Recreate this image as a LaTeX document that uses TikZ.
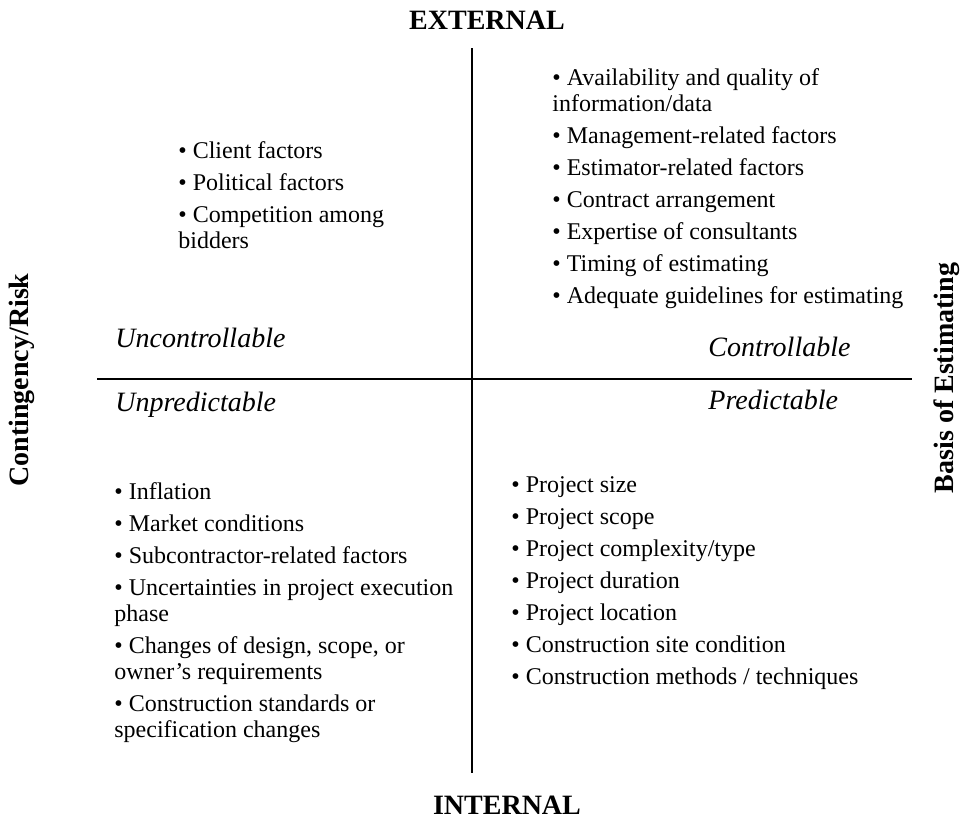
\documentclass[tikz,border=0pt]{standalone}
\usepackage{fontspec}
\setmainfont{Liberation Serif}
\usepackage{tikz}

\newcommand{\itm}{\textbullet\ }

\begin{document}
\begin{tikzpicture}[x=0.5pt, y=-0.5pt,
            list node/.style={anchor=north west, inner sep=0pt, align=left, font=\fontsize{12}{13}\selectfont},
            axis label/.style={inner sep=0pt, font=\fontsize{14}{16}\selectfont\bfseries},
            corner label/.style={anchor=base west, inner sep=0pt, font=\fontsize{14}{16}\selectfont\itshape},
            axis line/.style={line width=1pt},
            ]
            \useasboundingbox (0,0) rectangle (963,821);

            \coordinate (top) at (472,48);
            \coordinate (bottom) at (472,773);
            \coordinate (left) at (97,379);
            \coordinate (right) at (912,379);

            \node[axis label] (ext) at (487,20) {EXTERNAL};
            \node[axis label] (int) at (507,805) {INTERNAL};
            \node[axis label, rotate=90] (risk) at (22,380) {Contingency/Risk};
            \node[axis label, rotate=90] (basis) at (947,378) {Basis of Estimating};

            \node[corner label] (unc) at (115,347) {Uncontrollable};
            \node[corner label] (con) at (708,356) {Controllable};
            \node[corner label] (unp) at (115,411) {Unpredictable};
            \node[corner label] (pre) at (708,409) {Predictable};

            \node[list node] (tl) at (178,141) {\itm Client factors\\[3pt]
                \itm Political factors\\[3pt]
                \itm Competition among\\bidders};
            \node[list node] (tr) at (552,68) {\itm Availability and quality of\\information/data\\[3pt]
                \itm Management-related factors\\[3pt]
                \itm Estimator-related factors\\[3pt]
                \itm Contract arrangement\\[3pt]
                \itm Expertise of consultants\\[3pt]
                \itm Timing of estimating\\[3pt]
                \itm Adequate guidelines for estimating};
            \node[list node] (bl) at (114,482) {\itm Inflation\\[3pt]
                \itm Market conditions\\[3pt]
                \itm Subcontractor-related factors\\[3pt]
                \itm Uncertainties in project execution\\phase\\[3pt]
                \itm Changes of design, scope, or\\owner's requirements\\[3pt]
                \itm Construction standards or\\specification changes};
            \node[list node] (br) at (511,476) {\itm Project size\\[3pt]
                \itm Project scope\\[3pt]
                \itm Project complexity/type\\[3pt]
                \itm Project duration\\[3pt]
                \itm Project location\\[3pt]
                \itm Construction site condition\\[3pt]
                \itm Construction methods / techniques};

            \draw[axis line] (top) -- (bottom);
            \draw[axis line] (left) -- (right);
        \end{tikzpicture}
\end{document}
